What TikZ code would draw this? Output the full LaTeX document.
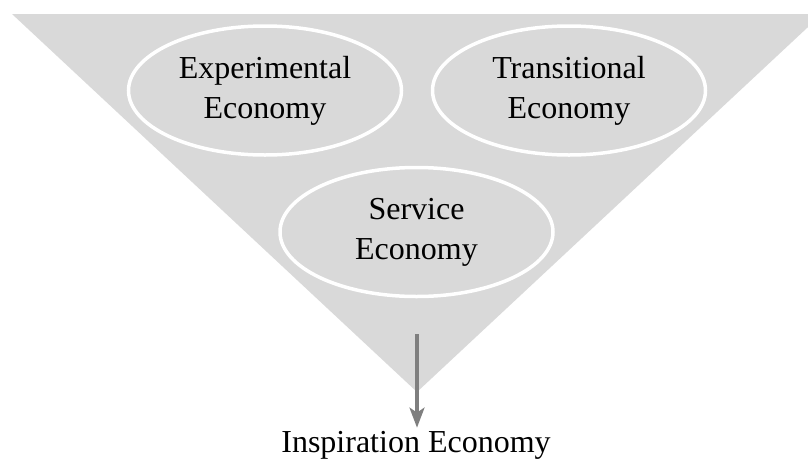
\documentclass[tikz,border=0pt]{standalone}
\usepackage{fontspec}
\setmainfont{Liberation Serif}
\usetikzlibrary{shapes.geometric,arrows.meta}
\definecolor{funnelgray}{HTML}{D9D9D9}
\definecolor{arrowgray}{HTML}{7F7F7F}
\tikzset{
  econ/.style={ellipse, draw=white, line width=3.5pt, fill=funnelgray,
    minimum width=273pt, minimum height=129pt, inner sep=0pt, align=center,
    font=\fontsize{32}{40}\selectfont},
  flowarrow/.style={draw=arrowgray, line width=3.2pt,
    -{Stealth[length=20pt,width=15pt,inset=5pt]}}
}
\begin{document}
\begin{tikzpicture}[x=1pt,y=-1pt]
\useasboundingbox (0,0) rectangle (808,458);
\begin{scope}
\clip (0,0) rectangle (808,458);
\fill[funnelgray] (12,14) -- (822,14) -- (417,392) -- cycle;
\end{scope}
\node[econ] (exp) at (265,90.5) {Experimental\\Economy};
\node[econ] (trans) at (569,90.5) {Transitional\\Economy};
\node[econ] (serv) at (416.5,232) {Service\\Economy};
\node[anchor=base, inner sep=3pt, font=\fontsize{32}{40}\selectfont] (insp) at (416,452) {Inspiration Economy};
\coordinate (astart) at (417,334);
\draw[flowarrow] (astart) -- (astart |- insp.north);
\end{tikzpicture}
\end{document}
